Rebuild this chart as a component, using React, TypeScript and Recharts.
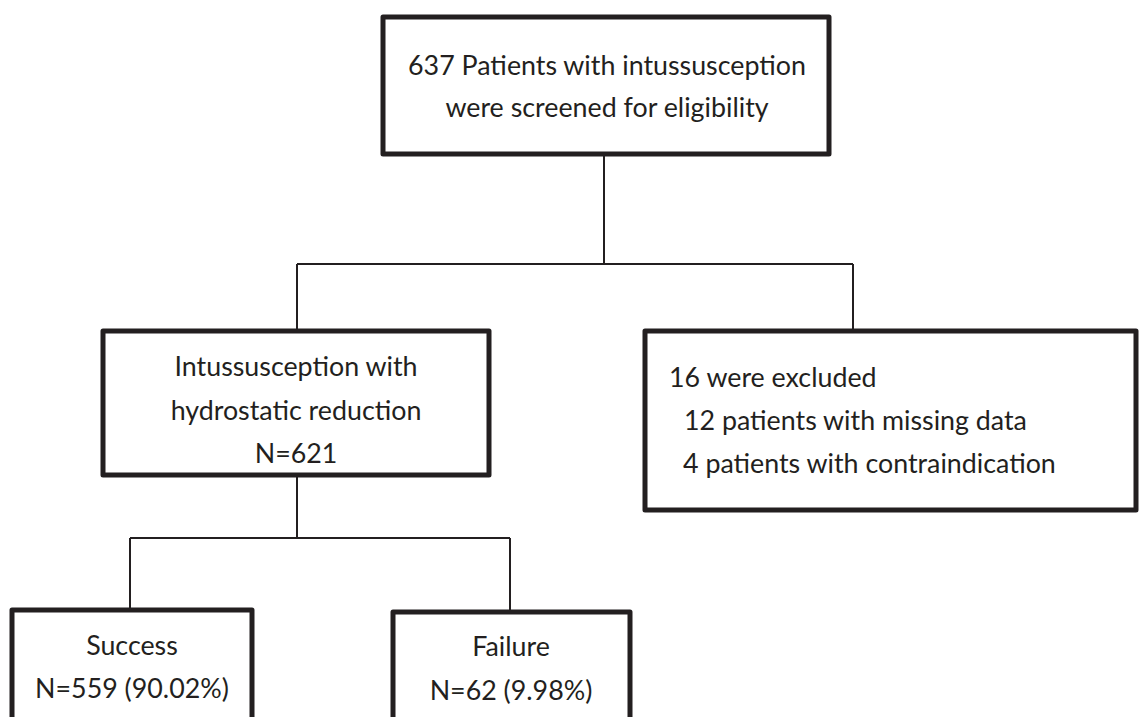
import React from "react";
import {
  ScatterChart,
  Scatter,
  XAxis,
  YAxis,
  ReferenceArea,
  ReferenceLine,
} from "recharts";

// flow counts
const screened = 637;
const included = 621;
const excluded = 16;
const missingData = 12;
const contraindicated = 4;
const success = 559;
const failure = 62;

const nodeIds = ["screened", "included", "excluded", "success", "failure"];

const nodeLines: string[][] = [
  [`${screened} Patients with intussusception`, "were screened for eligibility"],
  ["Intussusception with", "hydrostatic reduction", `N=${included}`],
  [
    `${excluded} were excluded`,
    `${missingData} patients with missing data`,
    `${contraindicated} patients with contraindication`,
  ],
  ["Success", `N=${success} (90.02%)`],
  ["Failure", `N=${failure} (9.98%)`],
];

// layout, in page pixels (axes below map 1:1)
const boxLayout = [
  { x1: 383, x2: 829, y1: 17, y2: 154 },
  { x1: 103, x2: 489, y1: 331, y2: 475 },
  { x1: 645, x2: 1136, y1: 331, y2: 510 },
  { x1: 12, x2: 252, y1: 610, y2: 760 },
  { x1: 393, x2: 630, y1: 612, y2: 760 },
];

const textLayout = [
  { x: 607, y: 75, gap: 42, anchor: "middle", indent: [0, 0] },
  { x: 296, y: 376, gap: 43.5, anchor: "middle", indent: [0, 0, 0] },
  { x: 669, y: 387, gap: 43, anchor: "start", indent: [0, 15, 14] },
  { x: 132, y: 655, gap: 43, anchor: "middle", indent: [0, 0] },
  { x: 511, y: 656, gap: 44, anchor: "middle", indent: [0, 0] },
];

const connectors = [
  [{ x: 604, y: 154 }, { x: 604, y: 264 }],
  [{ x: 297, y: 264 }, { x: 853, y: 264 }],
  [{ x: 297, y: 264 }, { x: 297, y: 331 }],
  [{ x: 853, y: 264 }, { x: 853, y: 331 }],
  [{ x: 297, y: 475 }, { x: 297, y: 538 }],
  [{ x: 130, y: 538 }, { x: 510, y: 538 }],
  [{ x: 130, y: 538 }, { x: 130, y: 610 }],
  [{ x: 510, y: 538 }, { x: 510, y: 612 }],
];

const ink = "#231f20";

const labelData = nodeIds.map((id, i) => ({
  id,
  x: textLayout[i].x,
  y: textLayout[i].y,
  lines: nodeLines[i],
  gap: textLayout[i].gap,
  anchor: textLayout[i].anchor,
  indent: textLayout[i].indent,
}));

const NodeText = (props: any) => {
  const { cx, cy, payload } = props;
  return (
    <text
      fill={ink}
      fontFamily="Lato, 'Noto Sans', sans-serif"
      fontSize={26.8}
      textAnchor={payload.anchor}
    >
      {payload.lines.map((line: string, i: number) => (
        <tspan key={i} x={cx + payload.indent[i]} y={cy + i * payload.gap}>
          {line}
        </tspan>
      ))}
    </text>
  );
};

export default function App() {
  return (
    <div
      style={{
        position: "absolute",
        left: 0,
        top: 0,
        width: 1148,
        height: 717,
        background: "#fff",
      }}
    >
      <ScatterChart
        width={1148}
        height={717}
        margin={{ top: 0, right: 0, bottom: 0, left: 0 }}
      >
        <XAxis type="number" dataKey="x" domain={[0, 1148]} hide />
        <YAxis type="number" dataKey="y" domain={[0, 717]} reversed hide />
        {connectors.map((seg, i) => (
          <ReferenceLine
            key={`c${i}`}
            segment={seg}
            stroke={ink}
            strokeWidth={2}
            ifOverflow="visible"
          />
        ))}
        {boxLayout.map((b, i) => (
          <ReferenceArea
            key={nodeIds[i]}
            x1={b.x1}
            x2={b.x2}
            y1={b.y1}
            y2={b.y2}
            fill="none"
            fillOpacity={0}
            stroke={ink}
            strokeWidth={5}
            strokeOpacity={1}
            strokeLinejoin="round"
            ifOverflow="visible"
          />
        ))}
        <Scatter
          data={labelData}
          shape={NodeText}
          isAnimationActive={false}
        />
      </ScatterChart>
    </div>
  );
}
